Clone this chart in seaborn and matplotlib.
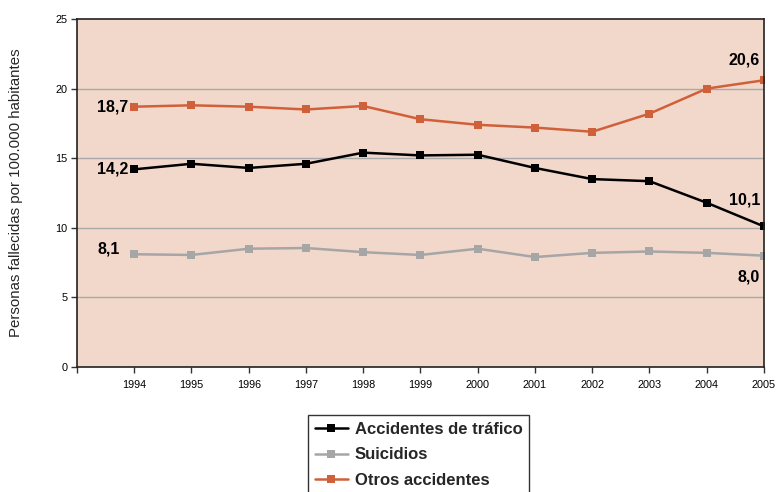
import pandas as pd
import matplotlib.pyplot as plt
import seaborn as sns

# Data
years = [1994, 1995, 1996, 1997, 1998, 1999, 2000, 2001, 2002, 2003, 2004, 2005]
trafico = [14.2, 14.6, 14.3, 14.6, 15.4, 15.2, 15.25, 14.3, 13.5, 13.35, 11.8, 10.1]
suicidios = [8.1, 8.05, 8.5, 8.55, 8.25, 8.05, 8.5, 7.9, 8.2, 8.3, 8.2, 8.0]
otros = [18.7, 18.8, 18.7, 18.5, 18.75, 17.8, 17.4, 17.2, 16.9, 18.2, 20.0, 20.6]

series_names = ['Accidentes de tráfico', 'Suicidios', 'Otros accidentes']
colors = ['#000000', '#A6A6A6', '#D0603A']

df = pd.concat([
    pd.DataFrame({'Año': years, 'Valor': vals, 'Serie': name})
    for name, vals in zip(series_names, [trafico, suicidios, otros])
])

sns.set_style('ticks')
plt.rcParams['font.family'] = ['Liberation Sans', 'DejaVu Sans']

fig = plt.figure(figsize=(7.76, 4.92), dpi=100)
ax = fig.add_axes([0.0992, 0.254, 0.8853, 0.7074])
ax.set_facecolor('#F2D8CA')

sns.lineplot(data=df, x='Año', y='Valor', hue='Serie', hue_order=series_names,
             palette=colors, marker='s', markersize=6, markeredgewidth=0,
             linewidth=1.8, ax=ax)

ax.set_xlim(1993, 2005)
ax.set_ylim(0, 25)
ax.set_xticks([1993] + years)
ax.set_xticklabels([''] + [str(y) for y in years], fontsize=7.8)
ax.set_yticks([0, 5, 10, 15, 20, 25])
ax.set_yticklabels(['0', '5', '10', '15', '20', '25'], fontsize=7.8)
ax.tick_params(axis='both', direction='out', length=4, width=1, color='#333333',
               labelcolor='#000000')
ax.tick_params(axis='x', pad=5)
ax.tick_params(axis='y', pad=3)
for y in [5, 10, 15, 20]:
    ax.axhline(y, color='#A9A9A9', linewidth=1, zorder=0.5)
for s in ax.spines.values():
    s.set_color('#222222')
    s.set_linewidth(1.2)

ax.set_xlabel('')
ax.set_ylabel('Personas fallecidas por 100.000 habitantes', fontsize=10.8, labelpad=23)

# value labels
lab = dict(fontsize=11.5, fontweight='bold', ha='right', va='center', color='#000000')
ax.text(1993.9, otros[0], '18,7', **lab)
ax.text(1993.9, trafico[0], '14,2', **lab)
ax.text(1993.75, suicidios[0] + 0.4, '8,1', **lab)
ax.text(2004.93, otros[-1] + 1.45, '20,6', **lab)
ax.text(2004.93, trafico[-1] + 1.9, '10,1', **lab)
ax.text(2004.93, suicidios[-1] - 1.55, '8,0', **lab)

leg = ax.legend(loc='upper center', bbox_to_anchor=(0.497, -0.115), frameon=True,
                fancybox=False, handlelength=2.0, handletextpad=0.4,
                prop={'weight': 'bold', 'size': 12}, borderpad=0.4, labelspacing=0.62)
leg.get_frame().set_edgecolor('#000000')
leg.get_frame().set_linewidth(1.0)

fig.savefig('out.png', dpi=100)
